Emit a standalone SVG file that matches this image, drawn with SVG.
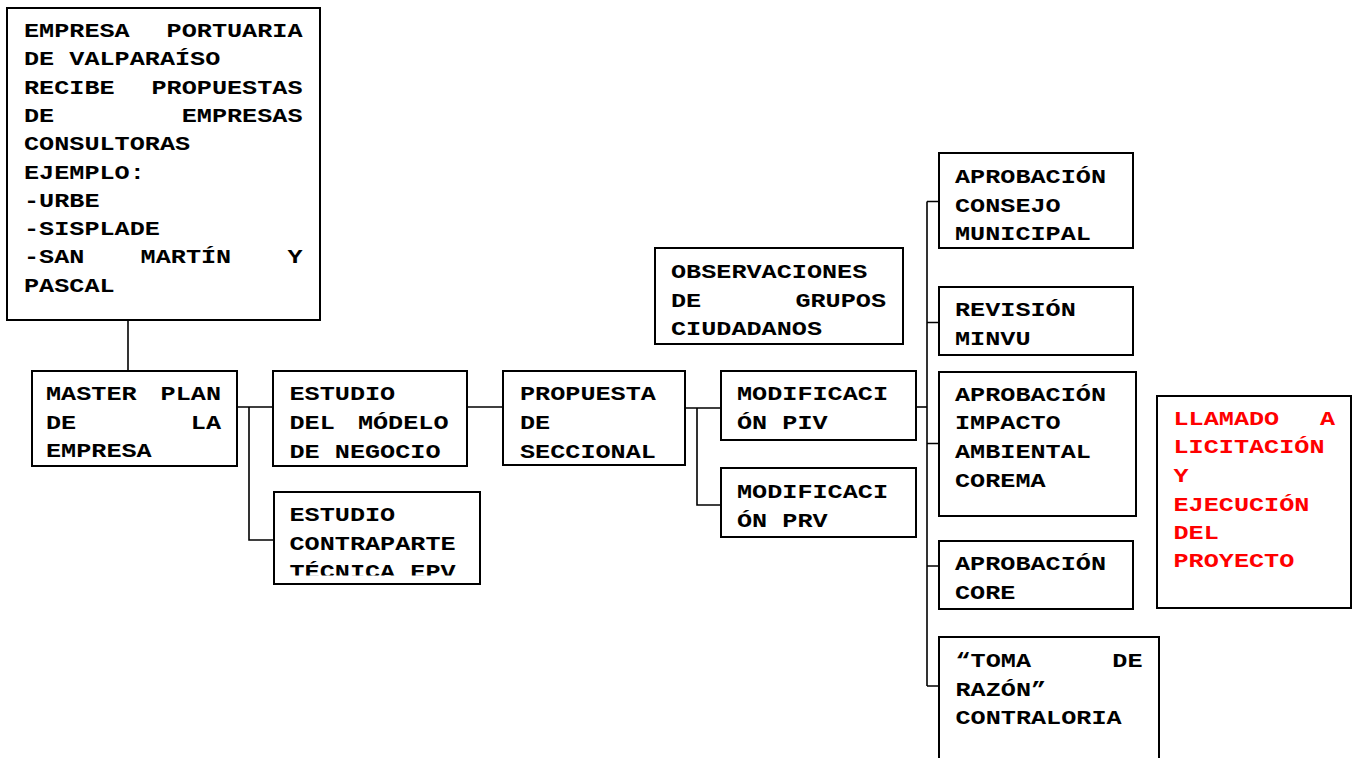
<svg xmlns="http://www.w3.org/2000/svg" width="1355" height="758" viewBox="0 0 1355 758">
<style>
.b{fill:#fff;stroke:#000;stroke-width:2}
.t{font-family:"Liberation Mono","Courier New",monospace;font-weight:bold;font-size:20px;fill:#000}
.r{fill:#f00}
.c{fill:none;stroke:#000;stroke-width:1.6}
</style>
<defs>
<clipPath id="clipA"><rect x="273" y="371" width="194" height="87.5"/></clipPath>
<clipPath id="clipB"><rect x="274" y="492" width="206" height="83.5"/></clipPath>
</defs>
<rect width="1355" height="758" fill="#fff"/>
<g id="connectors">
<path class="c" d="M128,320V371"/>
<path class="c" d="M237,407H273M249,407V540H274"/>
<path class="c" d="M467,407H503"/>
<path class="c" d="M685,408H721M697,408V505H721"/>
<path class="c" d="M916,407H927"/>
<path class="c" d="M927,201.5V686"/>
<path class="c" d="M927,201.5H939M927,322.5H939M927,443.5H939M927,566H939M927,686H939"/>
</g>
<g id="n-epv">
<rect class="b" x="7" y="8" width="313" height="312"/>
<text class="t" x="24" y="37" textLength="105.7" lengthAdjust="spacingAndGlyphs">EMPRESA</text>
<text class="t" x="166.6" y="37" textLength="135.9" lengthAdjust="spacingAndGlyphs">PORTUARIA</text>
<text class="t" x="24" y="65.3" textLength="196.3" lengthAdjust="spacingAndGlyphs">DE VALPARAÍSO</text>
<text class="t" x="24" y="93.6" textLength="90.6" lengthAdjust="spacingAndGlyphs">RECIBE</text>
<text class="t" x="151.5" y="93.6" textLength="151" lengthAdjust="spacingAndGlyphs">PROPUESTAS</text>
<text class="t" x="24" y="121.9" textLength="30.2" lengthAdjust="spacingAndGlyphs">DE</text>
<text class="t" x="181.7" y="121.9" textLength="120.8" lengthAdjust="spacingAndGlyphs">EMPRESAS</text>
<text class="t" x="24" y="150.2" textLength="166.1" lengthAdjust="spacingAndGlyphs">CONSULTORAS</text>
<text class="t" x="24" y="178.5" textLength="120.8" lengthAdjust="spacingAndGlyphs">EJEMPLO:</text>
<text class="t" x="24" y="206.8" textLength="75.5" lengthAdjust="spacingAndGlyphs">-URBE</text>
<text class="t" x="24" y="235.1" textLength="135.9" lengthAdjust="spacingAndGlyphs">-SISPLADE</text>
<text class="t" x="24" y="263.4" textLength="60.4" lengthAdjust="spacingAndGlyphs">-SAN</text>
<text class="t" x="140.6" y="263.4" textLength="90.6" lengthAdjust="spacingAndGlyphs">MARTÍN</text>
<text class="t" x="287.4" y="263.4" textLength="15.1" lengthAdjust="spacingAndGlyphs">Y</text>
<text class="t" x="24" y="291.7" textLength="90.6" lengthAdjust="spacingAndGlyphs">PASCAL</text>
</g>
<g id="n-master">
<rect class="b" x="32" y="371" width="205" height="95"/>
<text class="t" x="46" y="400" textLength="90.6" lengthAdjust="spacingAndGlyphs">MASTER</text>
<text class="t" x="160.6" y="400" textLength="60.4" lengthAdjust="spacingAndGlyphs">PLAN</text>
<text class="t" x="46" y="428.5" textLength="30.2" lengthAdjust="spacingAndGlyphs">DE</text>
<text class="t" x="190.8" y="428.5" textLength="30.2" lengthAdjust="spacingAndGlyphs">LA</text>
<text class="t" x="46" y="457" textLength="105.7" lengthAdjust="spacingAndGlyphs">EMPRESA</text>
</g>
<g id="n-modelo">
<rect class="b" x="273" y="371" width="194" height="95"/>
<g clip-path="url(#clipA)">
<text class="t" x="289.5" y="400" textLength="105.7" lengthAdjust="spacingAndGlyphs">ESTUDIO</text>
<text class="t" x="289.5" y="429" textLength="45.3" lengthAdjust="spacingAndGlyphs">DEL</text>
<text class="t" x="357.9" y="429" textLength="90.6" lengthAdjust="spacingAndGlyphs">MÓDELO</text>
<text class="t" x="289.5" y="457.5" textLength="151" lengthAdjust="spacingAndGlyphs">DE NEGOCIO</text>
</g>
</g>
<g id="n-contraparte">
<rect class="b" x="274" y="492" width="206" height="92"/>
<g clip-path="url(#clipB)">
<text class="t" x="289.5" y="520.5" textLength="105.7" lengthAdjust="spacingAndGlyphs">ESTUDIO</text>
<text class="t" x="289.5" y="549.5" textLength="166.1" lengthAdjust="spacingAndGlyphs">CONTRAPARTE</text>
<text class="t" x="289.5" y="577.5" textLength="166.1" lengthAdjust="spacingAndGlyphs">TÉCNICA EPV</text>
</g>
</g>
<g id="n-propuesta">
<rect class="b" x="503" y="371" width="182" height="94"/>
<text class="t" x="520" y="400" textLength="135.9" lengthAdjust="spacingAndGlyphs">PROPUESTA</text>
<text class="t" x="520" y="429" textLength="30.2" lengthAdjust="spacingAndGlyphs">DE</text>
<text class="t" x="520" y="457.5" textLength="135.9" lengthAdjust="spacingAndGlyphs">SECCIONAL</text>
</g>
<g id="n-observaciones">
<rect class="b" x="655" y="248" width="248" height="96"/>
<text class="t" x="671" y="277.5" textLength="196.3" lengthAdjust="spacingAndGlyphs">OBSERVACIONES</text>
<text class="t" x="671" y="306.5" textLength="30.2" lengthAdjust="spacingAndGlyphs">DE</text>
<text class="t" x="795.4" y="306.5" textLength="90.6" lengthAdjust="spacingAndGlyphs">GRUPOS</text>
<text class="t" x="671" y="335" textLength="151" lengthAdjust="spacingAndGlyphs">CIUDADANOS</text>
</g>
<g id="n-piv">
<rect class="b" x="721" y="371" width="195" height="69"/>
<text class="t" x="737" y="400" textLength="151" lengthAdjust="spacingAndGlyphs">MODIFICACI</text>
<text class="t" x="737" y="429" textLength="90.6" lengthAdjust="spacingAndGlyphs">ÓN PIV</text>
</g>
<g id="n-prv">
<rect class="b" x="721" y="468" width="195" height="69"/>
<text class="t" x="737" y="497.5" textLength="151" lengthAdjust="spacingAndGlyphs">MODIFICACI</text>
<text class="t" x="737" y="526.5" textLength="90.6" lengthAdjust="spacingAndGlyphs">ÓN PRV</text>
</g>
<g id="n-consejo">
<rect class="b" x="939" y="153" width="194" height="95"/>
<text class="t" x="955" y="183" textLength="151" lengthAdjust="spacingAndGlyphs">APROBACIÓN</text>
<text class="t" x="955" y="211.5" textLength="105.7" lengthAdjust="spacingAndGlyphs">CONSEJO</text>
<text class="t" x="955" y="240" textLength="135.9" lengthAdjust="spacingAndGlyphs">MUNICIPAL</text>
</g>
<g id="n-minvu">
<rect class="b" x="939" y="287" width="194" height="68"/>
<text class="t" x="955" y="316" textLength="120.8" lengthAdjust="spacingAndGlyphs">REVISIÓN</text>
<text class="t" x="955" y="344.5" textLength="75.5" lengthAdjust="spacingAndGlyphs">MINVU</text>
</g>
<g id="n-corema">
<rect class="b" x="939" y="372" width="197" height="144"/>
<text class="t" x="955" y="400.5" textLength="151" lengthAdjust="spacingAndGlyphs">APROBACIÓN</text>
<text class="t" x="955" y="429" textLength="105.7" lengthAdjust="spacingAndGlyphs">IMPACTO</text>
<text class="t" x="955" y="458" textLength="135.9" lengthAdjust="spacingAndGlyphs">AMBIENTAL</text>
<text class="t" x="955" y="486.5" textLength="90.6" lengthAdjust="spacingAndGlyphs">COREMA</text>
</g>
<g id="n-core">
<rect class="b" x="939" y="541" width="194" height="68"/>
<text class="t" x="955" y="570" textLength="151" lengthAdjust="spacingAndGlyphs">APROBACIÓN</text>
<text class="t" x="955" y="598.5" textLength="60.4" lengthAdjust="spacingAndGlyphs">CORE</text>
</g>
<g id="n-toma">
<rect class="b" x="939" y="637" width="220" height="140"/>
<text class="t" x="955.5" y="667" textLength="75.5" lengthAdjust="spacingAndGlyphs">“TOMA</text>
<text class="t" x="1112.3" y="667" textLength="30.2" lengthAdjust="spacingAndGlyphs">DE</text>
<text class="t" x="955.5" y="695.5" textLength="90.6" lengthAdjust="spacingAndGlyphs">RAZÓN”</text>
<text class="t" x="955.5" y="724" textLength="166.1" lengthAdjust="spacingAndGlyphs">CONTRALORIA</text>
</g>
<g id="n-llamado">
<rect class="b" x="1157" y="396" width="194" height="212"/>
<text class="t r" x="1173.5" y="425" textLength="105.7" lengthAdjust="spacingAndGlyphs">LLAMADO</text>
<text class="t r" x="1319.9" y="425" textLength="15.1" lengthAdjust="spacingAndGlyphs">A</text>
<text class="t r" x="1173.5" y="453.3" textLength="151" lengthAdjust="spacingAndGlyphs">LICITACIÓN</text>
<text class="t r" x="1173.5" y="481.7" textLength="15.1" lengthAdjust="spacingAndGlyphs">Y</text>
<text class="t r" x="1173.5" y="510.5" textLength="135.9" lengthAdjust="spacingAndGlyphs">EJECUCIÓN</text>
<text class="t r" x="1173.5" y="539" textLength="45.3" lengthAdjust="spacingAndGlyphs">DEL</text>
<text class="t r" x="1173.5" y="567.3" textLength="120.8" lengthAdjust="spacingAndGlyphs">PROYECTO</text>
</g>
</svg>
